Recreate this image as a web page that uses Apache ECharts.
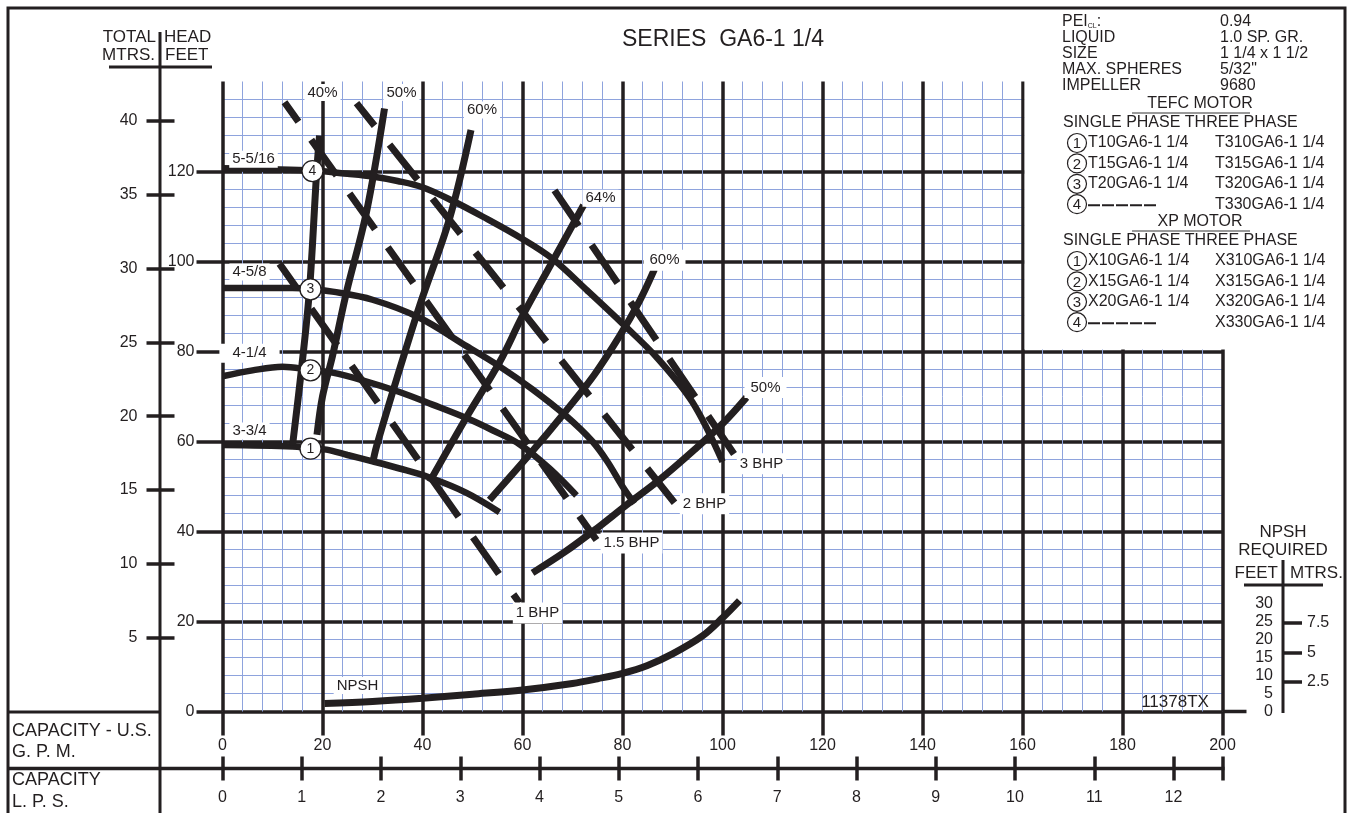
<!DOCTYPE html>
<html lang="en">
<head>
<meta charset="UTF-8">
<title>SERIES GA6-1 1/4</title>
<style>
  html, body { margin: 0; padding: 0; background: #fff; }
  #chart { width: 1350px; height: 813px; }
</style>
</head>
<body>
<div id="chart"></div>
<script src="https://cdn.jsdelivr.net/npm/echarts@6/dist/echarts.min.js"></script>
<script>
const INK = '#231f20';
const BLUE = '#8ea3dd';
const FONT = '"Liberation Sans", Arial, Helvetica, sans-serif';

// axes
const gpmMax = 200;
const feetMax = 140;
const lpsMax = 200 * 0.0630902;
const metreMax = 140 * 0.3048;
const npshAxisMax = 175;            // npsh scale is 30 ft over 108 px
const feetLabels = [0, 20, 40, 60, 80, 100, 120];
const metreLabels = [5, 10, 15, 20, 25, 30, 35, 40];
const lpsLabels = [0, 1, 2, 3, 4, 5, 6, 7, 8, 9, 10, 11, 12];
const npshMetreLabels = [2.5, 5, 7.5];

// head curves (gpm, feet)
const curve4Gpm = [0, 10, 18, 25, 30, 35, 40, 46, 52, 60, 66, 73, 80, 87, 94, 100];
const curve4Ft  = [120.7, 120.5, 120.2, 119.5, 118.9, 117.9, 116.5, 113.5, 110, 105, 100.6, 93.5, 86.2, 78.5, 68.7, 55.5];
const curve3Gpm = [0, 14, 17.6, 22, 30, 39.4, 48.8, 55.4, 62, 68.8, 74, 77, 80, 82.4];
const curve3Ft  = [94.1, 94.1, 93.9, 93.3, 91.5, 87.5, 81.2, 76.7, 71.6, 65.6, 60, 55.5, 50, 46.2];
const curve2Gpm = [0, 6, 12, 17.6, 22, 28, 35.4, 42, 48.8, 54, 59.4, 65.4, 70.8];
const curve2Ft  = [74.5, 75.8, 76.6, 75.9, 75.3, 73.6, 71, 68.2, 65.2, 62.5, 59.4, 54, 48];
const curve1Gpm = [0, 14, 17.6, 20.8, 25, 30, 35.4, 41.4, 48.8, 55.4];
const curve1Ft  = [59.2, 58.9, 58.5, 58.2, 57, 55.6, 54, 52, 48.6, 44.3];

// impeller markers
const impellerNo  = ['4', '3', '2', '1'];
const impellerGpm = [18, 17.6, 17.6, 17.6];
const impellerFt  = [120.1, 93.8, 75.8, 58.4];

// efficiency lines
const eff40Gpm  = [14, 15.8, 17.4, 18.8, 19.4];
const eff40Ft   = [59.1, 76.1, 93.7, 119.3, 128];
const eff50LGpm = [18.9, 20, 22, 24.8, 28.8, 32.4];
const eff50LFt  = [61.5, 70, 79, 93.2, 111, 134];
const eff60LGpm = [30, 30.8, 34.8, 39.4, 45.4, 49.7];
const eff60LFt  = [55, 58.9, 73.8, 90.1, 109.5, 129.2];
const eff64Gpm  = [41.4, 48.8, 55.4, 60, 66, 72.2];
const eff64Ft   = [51, 65.4, 77.6, 87.9, 100, 112.5];
const eff60RGpm = [53.4, 61.4, 68.4, 74.4, 79.4, 83.4, 86.4];
const eff60RFt  = [47, 57.1, 66.4, 74.9, 83.4, 91.2, 98.3];
const eff50RGpm = [62, 68.4, 74.4, 80.8, 87.4, 94.4, 100.4, 104.8];
const eff50RFt  = [30.8, 35.4, 40.3, 45.9, 51.5, 58.2, 64.4, 69.8];

// brake horsepower lines
const bhp1Gpm  = [11.4, 59.4];
const bhp1Ft   = [99.5, 24.1];
const bhp15Gpm = [12.4, 74.8];
const bhp15Ft  = [135.4, 38.1];
const bhp2Gpm  = [26.8, 90.4];
const bhp2Ft   = [135.2, 46.4];
const bhp3Gpm  = [66.4, 102.8];
const bhp3Ft   = [115.8, 56.4];

// npsh required (gpm, feet)
const npshGpm = [20.4, 30, 40, 50, 60, 70, 75, 80, 85, 90, 96, 100, 103.4];
const npshFt  = [2.2, 2.8, 3.7, 4.8, 6.0, 7.8, 9.1, 10.6, 12.8, 16, 21, 26, 30.8];

// spec block
const specLabels = ['LIQUID', 'SIZE', 'MAX. SPHERES', 'IMPELLER'];
const specValues = ['0.94', '1.0 SP. GR.', '1 1/4 x 1 1/2', '5/32"', '9680'];
const tefcSingle = ['T10GA6-1 1/4', 'T15GA6-1 1/4', 'T20GA6-1 1/4', null];
const tefcThree  = ['T310GA6-1 1/4', 'T315GA6-1 1/4', 'T320GA6-1 1/4', 'T330GA6-1 1/4'];
const xpSingle   = ['X10GA6-1 1/4', 'X15GA6-1 1/4', 'X20GA6-1 1/4', null];
const xpThree    = ['X310GA6-1 1/4', 'X315GA6-1 1/4', 'X320GA6-1 1/4', 'X330GA6-1 1/4'];

const pts = (xs, ys) => xs.map((x, i) => [x, ys[i]]);
const first = (xs, ys) => [xs[0], ys[0]];
const last = (xs, ys) => [xs[xs.length - 1], ys[ys.length - 1]];

function tag(coord, text, dx, dy, pad) {
  return {
    symbol: 'circle', symbolSize: 0, silent: true,
    label: {
      show: true, position: 'inside', formatter: text, offset: [dx, dy],
      color: INK, fontSize: 15, fontFamily: FONT,
      backgroundColor: '#fff', padding: pad || [1, 3]
    },
    data: [{ coord: coord }]
  };
}

function curve(name, xs, ys, width, extra) {
  return Object.assign({
    name: name, type: 'line', data: pts(xs, ys),
    symbol: 'none', showSymbol: false, smooth: 0.35, z: 3, silent: true,
    lineStyle: { color: INK, width: width }
  }, extra);
}

function dashed(name, xs, ys, dash, offset, label) {
  return curve(name, xs, ys, 7, {
    smooth: false,
    lineStyle: { color: INK, width: 7, type: dash, dashOffset: offset },
    markPoint: label
  });
}

var chart = echarts.init(document.getElementById('chart'));

function heavy() { return { show: true, lineStyle: { color: INK, width: 3.5 } }; }
function fine() { return { show: true, lineStyle: { color: BLUE, width: 1, opacity: 1 } }; }
function tickLabel(size, extra) { return Object.assign({ color: INK, fontSize: size, fontFamily: FONT }, extra); }

// half-pixel grid edges keep the 1px minor lines crisp
option = {
  animation: false,
  grid: [
    { left: 222.5, top: 81.5, width: 1000, height: 630 },
    { left: 1283, top: 603.5, width: 1, height: 108 }
  ],
  xAxis: [
    {
      type: 'value', gridIndex: 0, min: 0, max: gpmMax, interval: 20, position: 'bottom',
      axisLine: { show: false, onZero: false },
      axisTick: { length: 24, lineStyle: { color: INK, width: 3.5 } },
      axisLabel: tickLabel(16, { margin: 26 }),
      splitLine: heavy(), minorTick: { show: false, splitNumber: 5 }, minorSplitLine: fine()
    },
    {
      type: 'value', gridIndex: 0, min: 0, max: lpsMax, position: 'bottom', offset: 57,
      axisLine: { show: false, onZero: false },
      axisTick: { customValues: lpsLabels.concat([lpsMax]), length: 12, lineStyle: { color: INK, width: 3.5 } },
      axisLabel: tickLabel(16, { margin: 21, customValues: lpsLabels }),
      splitLine: { show: false }
    },
    {
      type: 'value', gridIndex: 0, min: 0, max: lpsMax, position: 'bottom', offset: 57,
      axisLine: { show: false, onZero: false },
      axisTick: { inside: true, customValues: lpsLabels.concat([lpsMax]), length: 12, lineStyle: { color: INK, width: 3.5 } },
      axisLabel: { show: false }, splitLine: { show: false }
    },
    { type: 'value', gridIndex: 1, min: 0, max: 1, show: false }
  ],
  yAxis: [
    {
      type: 'value', gridIndex: 0, min: 0, max: feetMax, interval: 20, position: 'left',
      axisLine: { show: false, onZero: false },
      axisTick: { customValues: feetLabels, length: 26, lineStyle: { color: INK, width: 3.5 } },
      axisLabel: tickLabel(16, { margin: 28, customValues: feetLabels }),
      splitLine: heavy(), minorTick: { show: false, splitNumber: 5 }, minorSplitLine: fine()
    },
    { type: 'value', gridIndex: 0, min: 0, max: npshAxisMax, show: false },
    {
      type: 'value', gridIndex: 0, min: 0, max: metreMax, position: 'left', offset: 63,
      axisLine: { show: false, onZero: false },
      axisTick: { customValues: metreLabels, length: 13, lineStyle: { color: INK, width: 3.5 } },
      axisLabel: tickLabel(16, { margin: 22, customValues: metreLabels }),
      splitLine: { show: false }
    },
    {
      type: 'value', gridIndex: 0, min: 0, max: metreMax, position: 'left', offset: 63,
      axisLine: { show: false, onZero: false },
      axisTick: { inside: true, customValues: metreLabels, length: 15, lineStyle: { color: INK, width: 3.5 } },
      axisLabel: { show: false }, splitLine: { show: false }
    },
    {
      type: 'value', gridIndex: 1, min: 0, max: 30, interval: 5, position: 'left',
      axisLine: { show: false, onZero: false }, axisTick: { show: false },
      axisLabel: tickLabel(16, { margin: 10 }), splitLine: { show: false }
    },
    {
      type: 'value', gridIndex: 1, min: 0, max: 30 * 0.3048, position: 'right',
      axisLine: { show: false, onZero: false },
      axisTick: { customValues: npshMetreLabels, length: 18, lineStyle: { color: INK, width: 3.5 } },
      axisLabel: tickLabel(16, { margin: 23, customValues: npshMetreLabels }),
      splitLine: { show: false }
    }
  ],
  series: [
    curve('5-5/16', curve4Gpm, curve4Ft, 6.5, { markPoint: tag(first(curve4Gpm, curve4Ft), '5-5/16', 31, -9) }),
    curve('4-5/8', curve3Gpm, curve3Ft, 6.5, { markPoint: tag(first(curve3Gpm, curve3Ft), '4-5/8', 27, -16) }),
    curve('4-1/4', curve2Gpm, curve2Ft, 6.5, { markPoint: tag(first(curve2Gpm, curve2Ft), '4-1/4', 27, -23, [2, 13]) }),
    curve('3-3/4', curve1Gpm, curve1Ft, 6.5, { markPoint: tag(first(curve1Gpm, curve1Ft), '3-3/4', 27, -14) }),

    curve('40%', eff40Gpm, eff40Ft, 7, { markPoint: tag(last(eff40Gpm, eff40Ft), '40%', 3, -43) }),
    curve('50%', eff50LGpm, eff50LFt, 7, { markPoint: tag(last(eff50LGpm, eff50LFt), '50%', 17, -16) }),
    curve('60%', eff60LGpm, eff60LFt, 7, { markPoint: tag(last(eff60LGpm, eff60LFt), '60%', 11, -20) }),
    curve('64%', eff64Gpm, eff64Ft, 7, { markPoint: tag(last(eff64Gpm, eff64Ft), '64%', 17, -7) }),
    curve('60% R', eff60RGpm, eff60RFt, 7, { markPoint: tag(last(eff60RGpm, eff60RFt), '60%', 10, -9, [3, 6]) }),
    curve('50% R', eff50RGpm, eff50RFt, 7, { markPoint: tag(last(eff50RGpm, eff50RFt), '50%', 19, -10, [3, 6]) }),

    dashed('1 BHP', bhp1Gpm, bhp1Ft, [45, 25], 15, tag(last(bhp1Gpm, bhp1Ft), '1 BHP', 18, 10, [3, 3])),
    dashed('1.5 BHP', bhp15Gpm, bhp15Ft, [44, 22], 20, tag(last(bhp15Gpm, bhp15Ft), '1.5 BHP', 35, 3, [3, 3])),
    dashed('2 BHP', bhp2Gpm, bhp2Ft, [45, 24], 16, tag(last(bhp2Gpm, bhp2Ft), '2 BHP', 30, 1, [3, 3])),
    dashed('3 BHP', bhp3Gpm, bhp3Ft, [46, 23], 3, tag(last(bhp3Gpm, bhp3Ft), '3 BHP', 25, 6, [3, 3])),

    curve('NPSH', npshGpm, npshFt, 7, { yAxisIndex: 1, markPoint: tag(first(npshGpm, npshFt), 'NPSH', 33, -18) }),

    {
      name: 'impeller', type: 'scatter', z: 6, silent: true,
      data: impellerGpm.map((g, i) => ({ value: [g, impellerFt[i]], name: impellerNo[i] })),
      symbol: 'circle', symbolSize: 21,
      itemStyle: { color: '#fff', borderColor: INK, borderWidth: 1.3, opacity: 1 },
      label: { show: true, position: 'inside', formatter: '{b}', color: INK, fontSize: 14, fontFamily: FONT }
    }
  ]
};
chart.setOption(option);

// ---- frame, headings and the spec block ----
function txt(x, y, text, size, align, extra) {
  return {
    type: 'text', x: x, y: y, z: 10, silent: true,
    style: Object.assign({
      text: text, fill: INK, fontSize: size || 16, fontFamily: FONT,
      align: align || 'left', textAlign: align || 'left',
      verticalAlign: 'middle', textVerticalAlign: 'middle'
    }, extra)
  };
}
function seg(x1, y1, x2, y2, w, color, dash) {
  return {
    type: 'line', z: 10, silent: true,
    shape: { x1: x1, y1: y1, x2: x2, y2: y2 },
    style: { stroke: color || INK, lineWidth: w || 3, lineDash: dash || null }
  };
}
function ring(cx, cy, n) {
  return [
    { type: 'circle', z: 10, silent: true, shape: { cx: cx, cy: cy, r: 9.5 }, style: { fill: '#fff', stroke: INK, lineWidth: 1.2 } },
    txt(cx, cy + 1, n, 15, 'center', { fill: INK })
  ];
}

var a = chart.convertToPixel({ xAxisIndex: 0, yAxisIndex: 0 }, [160, feetMax]);
var b = chart.convertToPixel({ xAxisIndex: 0, yAxisIndex: 0 }, [gpmMax, 80]);
var o = chart.convertToPixel({ xAxisIndex: 0, yAxisIndex: 0 }, [gpmMax, 0]);

var g = [
  // blank the grid above 80 ft past 160 gpm
  { type: 'rect', z: 1, silent: true, shape: { x: a[0] + 2, y: a[1] - 3, width: b[0] - a[0] + 2, height: b[1] - a[1] + 1 }, style: { fill: '#fff' } },
  { type: 'rect', z: 10, silent: true, shape: { x: 8, y: 8, width: 1337, height: 830 }, style: { fill: 'none', stroke: INK, lineWidth: 3 } },
  seg(160, 32, 160, 813),
  seg(8, 712, 160, 712),
  seg(8, 768.5, o[0] + 2, 768.5, 3.5),
  seg(o[0], o[1], o[0] + 24, o[1], 3.5),
  seg(109, 67, 212, 67),
  txt(156, 37, 'TOTAL', 17, 'right'),
  txt(164, 37, 'HEAD', 17, 'left'),
  txt(155, 55, 'MTRS.', 17, 'right'),
  txt(165, 55, 'FEET', 17, 'left'),
  txt(12, 731, 'CAPACITY - U.S.', 18),
  txt(12, 752, 'G. P. M.', 18),
  txt(12, 780, 'CAPACITY', 18),
  txt(12, 802, 'L. P. S.', 18),
  txt(723, 40, 'SERIES  GA6-1 1/4', 23, 'center'),
  txt(1175, 702, '11378TX', 17, 'center'),
  txt(1283, 532, 'NPSH', 17, 'center'),
  txt(1283, 550, 'REQUIRED', 17, 'center'),
  txt(1278, 573, 'FEET', 17, 'right'),
  txt(1290, 573, 'MTRS.', 17, 'left'),
  seg(1244, 585, 1323, 585),
  seg(1283, 560, 1283, 713),
  {
    type: 'text', x: 1062, y: 22, z: 10, silent: true,
    style: {
      text: '{a|PEI}{s|CL}{a|:}', fill: INK, fontFamily: FONT, verticalAlign: 'middle', textVerticalAlign: 'middle',
      rich: { a: { fontSize: 16, fontFamily: FONT, fill: INK, color: INK }, s: { fontSize: 7, fontFamily: FONT, fill: INK, color: INK, verticalAlign: 'bottom', padding: [6, 0, 0, 0] } }
    }
  }
];
specLabels.forEach(function (s, i) { g.push(txt(1062, 38 + i * 16, s, 16)); });
specValues.forEach(function (s, i) { g.push(txt(1220, 22 + i * 16, s, 16)); });

function motorBlock(title, y0, single, three) {
  g.push(txt(1200, y0, title, 16, 'center'));
  g.push(seg(1132, y0 + 9, 1250, y0 + 9, 1.5, '#777'));
  g.push(txt(1063, y0 + 19, 'SINGLE PHASE THREE PHASE', 16));
  single.forEach(function (s, i) {
    var y = y0 + 39 + i * 20.4;
    ring(1077, y, String(i + 1)).forEach(function (e) { g.push(e); });
    if (s) g.push(txt(1088, y, s, 16));
    else g.push(seg(1088, y + 1, 1157, y + 1, 2, INK, [12, 2]));
    g.push(txt(1215, y, three[i], 16));
  });
}
motorBlock('TEFC MOTOR', 104, tefcSingle, tefcThree);
motorBlock('XP MOTOR', 222, xpSingle, xpThree);

chart.setOption({ graphic: g });
</script>
</body>
</html>
